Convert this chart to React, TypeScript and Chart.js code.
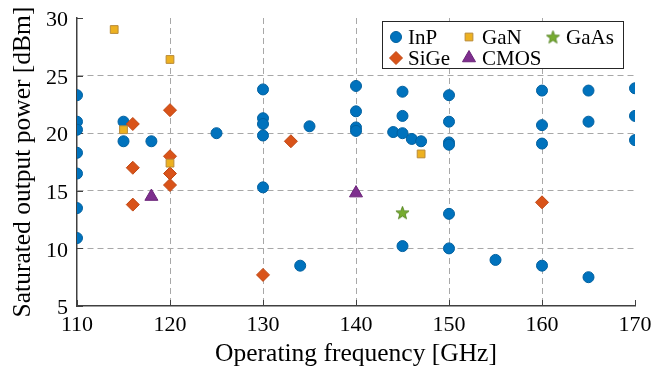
import React, { useEffect, useRef } from "react";
import { Chart, registerables } from "chart.js";
import { drawPoint } from "chart.js/helpers";

Chart.register(...registerables);

// ---------- data ----------
const xTicks = [110, 120, 130, 140, 150, 160, 170];
const yTicks = [5, 10, 15, 20, 25, 30];

const inpFreq = [
  110, 110, 110, 110, 110, 110, 110,
  115, 115, 118, 125,
  130, 130, 130, 130, 130,
  134, 135,
  140, 140, 140, 140,
  144, 145, 145, 145, 145, 146, 147,
  150, 150, 150, 150, 150, 150,
  155, 160, 160, 160, 160,
  165, 165, 165, 170, 170, 170,
];
const inpPower = [
  23.3, 21.0, 20.3, 18.3, 16.5, 13.5, 10.9,
  21.0, 19.3, 19.3, 20.0,
  23.8, 21.3, 20.8, 19.8, 15.3,
  8.5, 20.6,
  24.1, 21.9, 20.5, 20.2,
  20.1, 23.6, 21.5, 20.0, 10.2, 19.5, 19.3,
  23.3, 21.0, 19.2, 19.0, 13.0, 10.0,
  9.0, 23.7, 20.7, 19.1, 8.5,
  23.7, 21.0, 7.5, 23.9, 21.5, 19.4,
];

const sigeFreq = [116, 116, 116, 120, 120, 120, 120, 130, 133, 160];
const sigePower = [20.8, 17.0, 13.8, 22.0, 18.0, 16.5, 15.5, 7.7, 19.3, 14.0];

const ganFreq = [114, 115, 120, 120, 147];
const ganPower = [29.0, 20.3, 26.4, 17.4, 18.2];

const cmosFreq = [118, 140];
const cmosPower = [14.5, 14.8];

const gaasFreq = [145];
const gaasPower = [13.1];

const seriesNames = ["InP", "SiGe", "GaN", "CMOS", "GaAs"];

// ---------- styles ----------
const FONT = "'Liberation Serif', 'Times New Roman', serif";
const AXIS_COLOR = "#404040";
const GRID_COLOR = "#a8a8a8";

function makeStar(size: number, fill: string, stroke: string) {
  const c = document.createElement("canvas");
  c.width = size;
  c.height = size;
  const g = c.getContext("2d")!;
  const cx = size / 2;
  const cy = size / 2 + 0.5;
  const R = size / 2 - 0.6;
  const r = R * 0.42;
  g.beginPath();
  for (let i = 0; i < 10; i++) {
    const ang = -Math.PI / 2 + (i * Math.PI) / 5;
    const rad = i % 2 === 0 ? R : r;
    g.lineTo(cx + rad * Math.cos(ang), cy + rad * Math.sin(ang));
  }
  g.closePath();
  g.fillStyle = fill;
  g.fill();
  g.strokeStyle = stroke;
  g.lineWidth = 0.8;
  g.stroke();
  return c;
}

const zip = (xs: number[], ys: number[]) => xs.map((x, i) => ({ x, y: ys[i] }));

export default function App() {
  const ref = useRef<HTMLCanvasElement | null>(null);

  useEffect(() => {
    if (!ref.current) return;
    const star = makeStar(15, "#77AC30", "#4e7d1c");

    const datasets: any[] = [
      {
        label: seriesNames[0],
        data: zip(inpFreq, inpPower),
        pointStyle: "circle",
        pointRadius: 5.5,
        pointBackgroundColor: "#0072BD",
        pointBorderColor: "#00609f",
        pointBorderWidth: 1,
        order: 5,
      },
      {
        label: seriesNames[1],
        data: zip(sigeFreq, sigePower),
        pointStyle: "rectRot",
        pointRadius: 6.5,
        pointBackgroundColor: "#D95319",
        pointBorderColor: "#bf4814",
        pointBorderWidth: 1,
        order: 4,
      },
      {
        label: seriesNames[2],
        data: zip(ganFreq, ganPower),
        pointStyle: "rect",
        pointRadius: 5.5,
        pointBackgroundColor: "#EDB120",
        pointBorderColor: "#b98b3a",
        pointBorderWidth: 1,
        order: 3,
      },
      {
        label: seriesNames[3],
        data: zip(cmosFreq, cmosPower),
        pointStyle: "triangle",
        pointRadius: 7.5,
        pointBackgroundColor: "#7E2F8E",
        pointBorderColor: "#6b2479",
        pointBorderWidth: 1,
        order: 2,
      },
      {
        label: seriesNames[4],
        data: zip(gaasFreq, gaasPower),
        pointStyle: star,
        pointRadius: 7,
        pointBackgroundColor: "#77AC30",
        pointBorderColor: "#4e7d1c",
        pointBorderWidth: 0,
        order: 1,
      },
    ];

    const innerTicks = {
      id: "innerTicks",
      beforeDatasetsDraw(chart: any) {
        const { ctx, chartArea: ca, scales } = chart;
        ctx.save();
        ctx.strokeStyle = AXIS_COLOR;
        ctx.lineWidth = 1;
        ctx.beginPath();
        for (const t of xTicks) {
          const px = Math.round(scales.x.getPixelForValue(t)) + 0.5;
          ctx.moveTo(px, ca.bottom);
          ctx.lineTo(px, ca.bottom - 6);
        }
        for (const t of yTicks) {
          const py = Math.round(scales.y.getPixelForValue(t)) + 0.5;
          ctx.moveTo(ca.left, py);
          ctx.lineTo(ca.left + 6, py);
        }
        ctx.stroke();
        ctx.restore();
      },
    };

    const boxLegend = {
      id: "boxLegend",
      afterDatasetsDraw(chart: any) {
        const { ctx, chartArea: ca } = chart;
        const left = ca.right - 253;
        const top = ca.top + 3;
        const w = 241;
        const h = 47;
        ctx.save();
        ctx.fillStyle = "#ffffff";
        ctx.fillRect(left, top, w, h);
        ctx.strokeStyle = "#262626";
        ctx.lineWidth = 1;
        ctx.strokeRect(Math.round(left) + 0.5, Math.round(top) + 0.5, w, h);
        const colMarker = [14, 87, 171];
        const colText = [26, 100, 184];
        const rowY = [16, 37];
        // column-first layout: InP, SiGe | GaN, CMOS | GaAs
        const place = [
          [0, 0],
          [0, 1],
          [1, 0],
          [1, 1],
          [2, 0],
        ];
        ctx.font = `21px ${FONT}`;
        ctx.textBaseline = "middle";
        ctx.textAlign = "left";
        chart.data.datasets.forEach((ds: any, i: number) => {
          const [c, r] = place[i];
          const mx = left + colMarker[c];
          const my = top + rowY[r];
          ctx.fillStyle = ds.pointBackgroundColor;
          ctx.strokeStyle = ds.pointBorderColor;
          ctx.lineWidth = ds.pointBorderWidth;
          drawPoint(ctx, {
            pointStyle: ds.pointStyle,
            radius: ds.pointRadius,
            rotation: 0,
            borderWidth: ds.pointBorderWidth,
          } as any, mx, my);
          ctx.fillStyle = "#000000";
          ctx.fillText(ds.label, left + colText[c], my + 1);
        });
        ctx.restore();
      },
    };

    const chart = new Chart(ref.current, {
      type: "scatter",
      data: { datasets },
      options: {
        animation: false,
        responsive: false,
        maintainAspectRatio: false,
        layout: { padding: { top: 18, right: 18, left: 0, bottom: 0 } },
        plugins: {
          legend: { display: false },
          tooltip: { enabled: false },
        },
        scales: {
          x: {
            type: "linear",
            min: 110,
            max: 170,
            afterBuildTicks: (s: any) => {
              s.ticks = xTicks.map((v) => ({ value: v }));
            },
            afterFit: (s: any) => {
              s.height = 64;
              s.paddingLeft = 0;
              s.paddingRight = 0;
            },
            grid: {
              drawTicks: false,
              lineWidth: 1,
              color: (c: any) =>
                c.tick && (c.tick.value === 110 || c.tick.value === 170) ? "rgba(0,0,0,0)" : GRID_COLOR,
            },
            border: { display: true, color: AXIS_COLOR, width: 1.5, dash: [6, 4] },
            ticks: {
              padding: 6,
              color: "#000",
              font: { family: FONT, size: 22 },
              maxRotation: 0,
            },
            title: {
              display: true,
              text: "Operating frequency [GHz]",
              color: "#000",
              font: { family: FONT, size: 25.5 },
              padding: { top: 0, bottom: 0 },
            },
          },
          y: {
            type: "linear",
            min: 5,
            max: 30,
            afterBuildTicks: (s: any) => {
              s.ticks = yTicks.map((v) => ({ value: v }));
            },
            afterFit: (s: any) => {
              s.width = 77;
              s.paddingTop = 0;
              s.paddingBottom = 0;
            },
            grid: {
              drawTicks: false,
              lineWidth: 1,
              color: (c: any) =>
                c.tick && (c.tick.value === 5 || c.tick.value === 30) ? "rgba(0,0,0,0)" : GRID_COLOR,
            },
            border: { display: true, color: AXIS_COLOR, width: 1.5, dash: [6, 4] },
            ticks: {
              padding: 9,
              labelOffset: 2.5,
              color: "#000",
              font: { family: FONT, size: 22 },
            },
            title: {
              display: true,
              text: "Saturated output power [dBm]",
              color: "#000",
              font: { family: FONT, size: 25.5 },
              padding: { top: 8, bottom: 0 },
            },
          },
        },
      },
      plugins: [innerTicks, boxLegend],
    } as any);

    return () => chart.destroy();
  }, []);

  return (
    <div style={{ position: "fixed", left: 0, top: 0, width: 653, height: 370, background: "#fff" }}>
      <canvas ref={ref} width={653} height={370} style={{ width: 653, height: 370, display: "block" }} />
    </div>
  );
}
